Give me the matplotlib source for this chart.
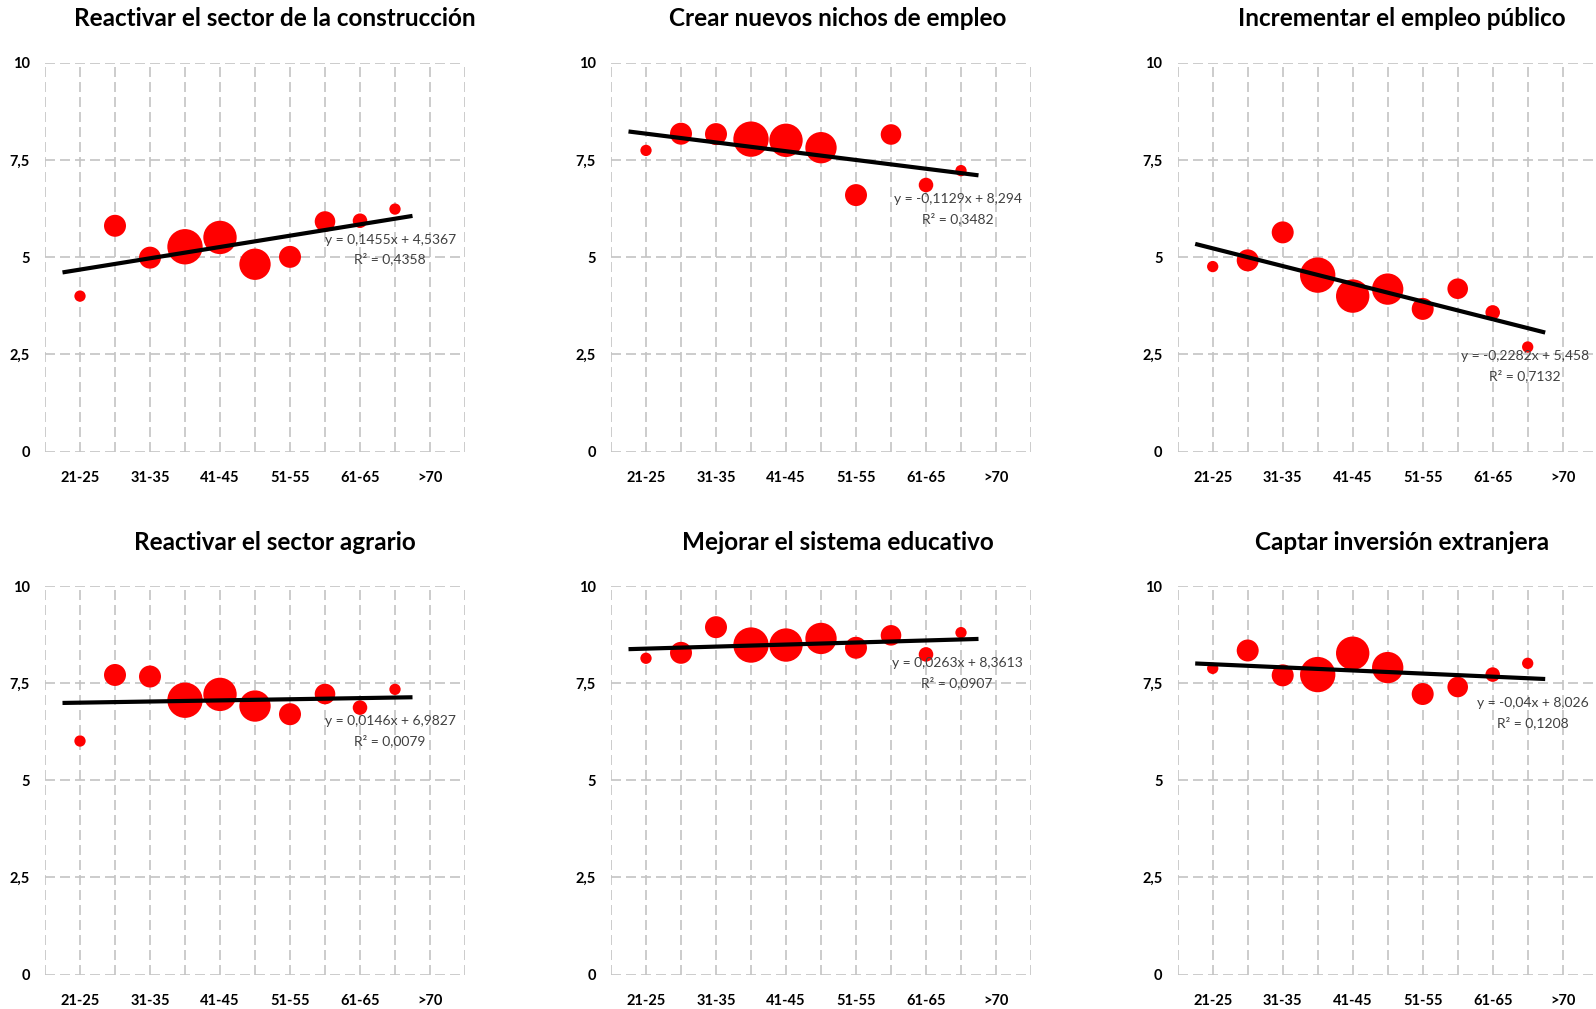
import numpy as np
import matplotlib.pyplot as plt

# grupos de edad (eje x)
edades = ['21-25', '26-30', '31-35', '36-40', '41-45', '46-50',
          '51-55', '56-60', '61-65', '66-70', '>70']

# numero de encuestados por grupo (tamaño de burbuja), 21-25 ... 66-70
encuestados = [32, 121, 121, 313, 279, 246, 121, 106, 53, 32]

titulos = ['Reactivar el sector de la construcción',
           'Crear nuevos nichos de empleo',
           'Incrementar el empleo público',
           'Reactivar el sector agrario',
           'Mejorar el sistema educativo',
           'Captar inversión extranjera']

# valoracion media por grupo de edad
construccion = [4.00, 5.81, 4.99, 5.27, 5.51, 4.82, 5.01, 5.92, 5.94, 6.24]
nichos = [7.75, 8.18, 8.17, 8.04, 8.01, 7.82, 6.60, 8.16, 6.86, 7.23]
empleo_publico = [4.76, 4.92, 5.64, 4.54, 4.00, 4.18, 3.67, 4.19, 3.58, 2.69]
agrario = [6.01, 7.71, 7.67, 7.06, 7.21, 6.91, 6.70, 7.22, 6.87, 7.34]
educativo = [8.14, 8.28, 8.94, 8.48, 8.48, 8.65, 8.41, 8.73, 8.24, 8.80]
inversion = [7.88, 8.34, 7.70, 7.72, 8.27, 7.90, 7.22, 7.40, 7.72, 8.01]
series = [construccion, nichos, empleo_publico, agrario, educativo, inversion]

# lineas de tendencia (pendiente, ordenada, R2)
pendientes = [0.1455, -0.1129, -0.2282, 0.0146, 0.0263, -0.04]
ordenadas = [4.5367, 8.294, 5.458, 6.9827, 8.3613, 8.026]
r2 = [0.4358, 0.3482, 0.7132, 0.0079, 0.0907, 0.1208]

# posicion de la etiqueta de la ecuacion (x centro, y primera linea)
pos_eq = [(9.86, 5.45), (9.91, 6.49), (9.93, 2.46),
          (9.86, 6.52), (9.89, 8.01), (10.16, 6.98)]

plt.rcParams['font.family'] = ['Lato', 'DejaVu Sans']

W, H = 1596, 1009
fig = plt.figure(figsize=(W / 100, H / 100), dpi=100)

lefts = [45, 611, 1177.7]
tops = [63, 586]
title_x = [275, 838, 1402]
title_y = [18, 542]


def coma(v):
    return f'{v:g}'.replace('.', ',')


x = np.arange(1, 11)
for k in range(6):
    fila, col = divmod(k, 3)
    ax = fig.add_axes([lefts[col] / W, 1 - (tops[fila] + 388.5) / H, 420 / W, 388.5 / H])
    ax.set_xlim(0, 12)
    ax.set_ylim(0, 10)
    for s in ax.spines.values():
        s.set_visible(False)

    ax.set_xticks(range(13))
    ax.set_xticklabels([''] + [e if i % 2 == 0 else '' for i, e in enumerate(edades)] + [''])
    ax.set_yticks([0, 2.5, 5, 7.5, 10])
    ax.set_yticklabels(['0', '2,5', '5', '7,5', '10'])
    ax.tick_params(length=0, labelsize=10.5, pad=11)
    ax.tick_params(axis='x', pad=14)
    for lb in ax.get_xticklabels() + ax.get_yticklabels():
        lb.set_fontweight('bold')
    ax.grid(True, color='#c4c4c4', linestyle=(0, (6, 3)), linewidth=1.2)
    ax.set_axisbelow(True)

    ax.scatter(x, series[k], s=np.array(encuestados) * 2.07, color='#ff0000',
               edgecolors='none', zorder=3)

    xt = np.array([0.5, 10.5])
    ax.plot(xt, pendientes[k] * xt + ordenadas[k], color='black', lw=3, zorder=4,
            solid_capstyle='butt')

    ex, ey = pos_eq[k]
    signo = '+' if ordenadas[k] >= 0 else '-'
    ax.text(ex, ey, f'y = {coma(pendientes[k])}x {signo} {coma(abs(ordenadas[k]))}',
            ha='center', va='center', fontsize=10, color='#404040', zorder=5)
    ax.text(ex, ey - 0.5, f'R² = {coma(r2[k])}', ha='center', va='center',
            fontsize=10, color='#404040', zorder=5)

    fig.text(title_x[col] / W, 1 - title_y[fila] / H, titulos[k], ha='center', va='center',
             fontsize=17.5, fontweight='bold')

fig.savefig('out.png', dpi=100)
